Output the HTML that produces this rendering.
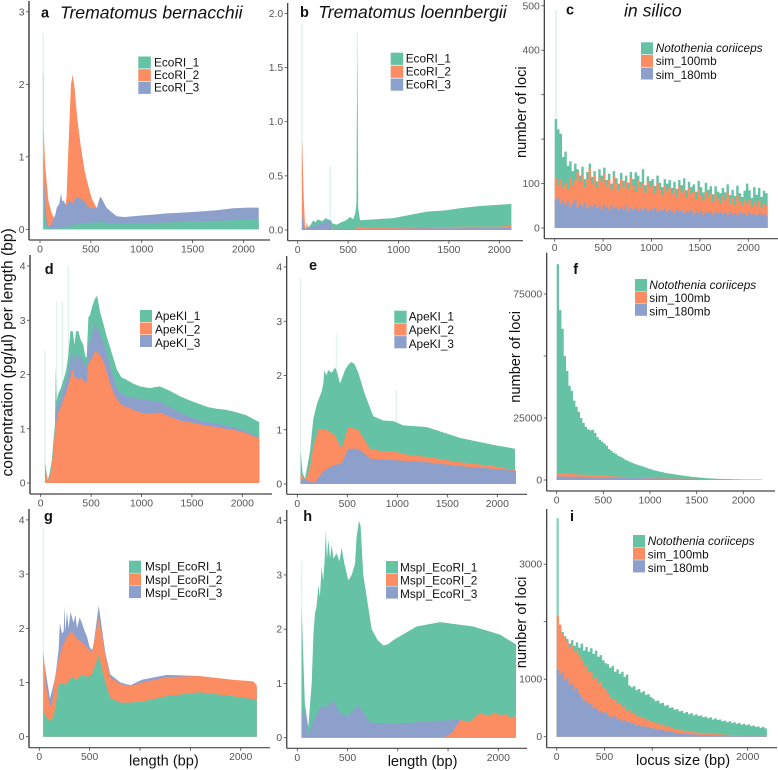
<!DOCTYPE html>
<html lang="en">
<head>
<meta charset="utf-8">
<title>Fragment length distributions</title>
<style>
html,body{margin:0;padding:0;background:#fff;width:778px;height:770px;overflow:hidden}
svg{display:block}
text{font-family:"Liberation Sans",Arial,sans-serif}
.tick{font-size:10.4px;fill:#555}
.lg{font-size:11.8px;fill:#111}
.ttl{font-size:17.6px;font-style:italic;fill:#111}
.ltr{font-size:14.5px;font-weight:bold;fill:#111}
.axt{font-size:14.6px;fill:#111}
</style>
</head>
<body>
<svg id="figure" width="778" height="770" viewBox="0 0 778 770" xmlns="http://www.w3.org/2000/svg">
<g id="plots"></g>

<text class="ltr" x="41" y="17.5">a</text>
<text class="ttl" x="60" y="18.5">Trematomus bernacchii</text>
<text class="ltr" x="300" y="17">b</text>
<text class="ttl" x="318.3" y="18">Trematomus loennbergii</text>
<text class="ltr" x="566" y="14.5">c</text>
<text class="ttl" x="624" y="16.5">in silico</text>
<text class="ltr" x="44.7" y="274">d</text>
<text class="ltr" x="309" y="270">e</text>
<text class="ltr" x="573.3" y="274">f</text>
<text class="ltr" x="44" y="521">g</text>
<text class="ltr" x="303.3" y="521">h</text>
<text class="ltr" x="570" y="521">i</text>

<text class="axt" transform="translate(12.5 476.5) rotate(-90)" style="font-size:15.6px">concentration (pg/µl) per length (bp)</text>
<text class="axt" transform="translate(526 158) rotate(-90)">number of loci</text>
<text class="axt" transform="translate(520 402.7) rotate(-90)">number of loci</text>
<text class="axt" transform="translate(526 668.3) rotate(-90)">number of loci</text>
<text class="axt" x="129" y="765.7">length (bp)</text>
<text class="axt" x="387.7" y="766">length (bp)</text>
<text class="axt" x="636" y="765">locus size (bp)</text>

<g>
<rect x="138.3" y="56.5" width="12.5" height="12" fill="#66c2a5"/><text class="lg" x="154" y="66.3">EcoRI_1</text>
<rect x="138.3" y="69.2" width="12.5" height="12" fill="#fc8d62"/><text class="lg" x="154" y="79">EcoRI_2</text>
<rect x="138.3" y="81.9" width="12.5" height="12" fill="#8da0cb"/><text class="lg" x="154" y="91.7">EcoRI_3</text>
</g>
<g>
<rect x="390.7" y="52.7" width="12.5" height="12.2" fill="#66c2a5"/><text class="lg" x="405.7" y="62.6">EcoRI_1</text>
<rect x="390.7" y="65.6" width="12.5" height="12.2" fill="#fc8d62"/><text class="lg" x="405.7" y="75.5">EcoRI_2</text>
<rect x="390.7" y="78.5" width="12.5" height="12.2" fill="#8da0cb"/><text class="lg" x="405.7" y="88.4">EcoRI_3</text>
</g>
<g>
<rect x="641" y="42.3" width="12" height="12" fill="#66c2a5"/><text class="lg" x="655.7" y="52.2" style="font-style:italic">Notothenia coriiceps</text>
<rect x="641" y="54.9" width="12" height="12" fill="#fc8d62"/><text class="lg" x="655.7" y="65">sim_100mb</text>
<rect x="641" y="67.5" width="12" height="12" fill="#8da0cb"/><text class="lg" x="655.7" y="79">sim_180mb</text>
</g>
<g>
<rect x="140" y="310" width="12" height="12" fill="#66c2a5"/><text class="lg" x="155" y="319.9">ApeKI_1</text>
<rect x="140" y="322.5" width="12" height="12" fill="#fc8d62"/><text class="lg" x="155" y="333.4">ApeKI_2</text>
<rect x="140" y="335" width="12" height="12" fill="#8da0cb"/><text class="lg" x="155" y="347">ApeKI_3</text>
</g>
<g>
<rect x="394.3" y="310.7" width="12.3" height="12.2" fill="#66c2a5"/><text class="lg" x="408.7" y="320.6">ApeKI_1</text>
<rect x="394.3" y="323.4" width="12.3" height="12.2" fill="#fc8d62"/><text class="lg" x="408.7" y="334.2">ApeKI_2</text>
<rect x="394.3" y="336.1" width="12.3" height="12.2" fill="#8da0cb"/><text class="lg" x="408.7" y="348">ApeKI_3</text>
</g>
<g>
<rect x="635" y="279" width="12" height="12" fill="#66c2a5"/><text class="lg" x="649.3" y="289" style="font-style:italic">Notothenia coriiceps</text>
<rect x="635" y="291.4" width="12" height="12" fill="#fc8d62"/><text class="lg" x="649.3" y="302">sim_100mb</text>
<rect x="635" y="303.8" width="12" height="12" fill="#8da0cb"/><text class="lg" x="649.3" y="315.5">sim_180mb</text>
</g>
<g>
<rect x="129" y="560.7" width="12" height="12.2" fill="#66c2a5"/><text class="lg" x="145" y="570.6">MspI_EcoRI_1</text>
<rect x="129" y="573.3" width="12" height="12.2" fill="#fc8d62"/><text class="lg" x="145" y="583.8">MspI_EcoRI_2</text>
<rect x="129" y="585.9" width="12" height="12.2" fill="#8da0cb"/><text class="lg" x="145" y="597">MspI_EcoRI_3</text>
</g>
<g>
<rect x="386" y="561" width="12" height="12.2" fill="#66c2a5"/><text class="lg" x="400" y="571.3">MspI_EcoRI_1</text>
<rect x="386" y="573.7" width="12" height="12.2" fill="#fc8d62"/><text class="lg" x="400" y="584.7">MspI_EcoRI_2</text>
<rect x="386" y="586.4" width="12" height="12.2" fill="#8da0cb"/><text class="lg" x="400" y="598">MspI_EcoRI_3</text>
</g>
<g>
<rect x="633" y="535" width="12" height="12.2" fill="#66c2a5"/><text class="lg" x="647.7" y="545" style="font-style:italic">Notothenia coriiceps</text>
<rect x="633" y="547.6" width="12" height="12.2" fill="#fc8d62"/><text class="lg" x="647.7" y="558.5">sim_100mb</text>
<rect x="633" y="560.2" width="12" height="12.2" fill="#8da0cb"/><text class="lg" x="647.7" y="572">sim_180mb</text>
</g>
</svg>

<script>
const GREEN = "#66c2a5", ORANGE = "#fc8d62", BLUE = "#8da0cb";

/* shared tick values */
const lengthTicks = [0, 500, 1000, 1500, 2000];
const lengthLabels = ["0", "500", "1000", "1500", "2000"];
const lengthLabelsCovered = ["0", "500", "", "", "2000"];

/* bin starts (bp) of the in-silico histograms */
const binStarts = [0,25,50,75,100,125,150,175,200,225,250,275,300,325,350,375,400,425,450,475,500,525,550,575,600,625,650,675,700,725,750,775,800,825,850,875,900,925,950,975,1000,1025,1050,1075,1100,1125,1150,1175,1200,1225,1250,1275,1300,1325,1350,1375,1400,1425,1450,1475,1500,1525,1550,1575,1600,1625,1650,1675,1700,1725,1750,1775,1800,1825,1850,1875,1900,1925,1950,1975,2000,2025,2050,2075,2100,2125,2150,2175];

/* panel a */
const aOrangeX = [33,36,50,82,115,150,200,240,262,270,290,305,321,340,365,400,440,475,510,555,570,2150];
const aOrangeY = [1.45,1.35,.9,.4,.22,.12,.1,.2,.45,.8,1.5,2.0,2.13,1.95,1.55,1.15,.8,.6,.42,.3,.1,.08];
const aBlueX = [33,36,50,65,82,105,130,150,165,190,207,218,230,260,290,325,360,400,440,480,525,560,590,610,630,655,700,755,830,917,1000,1100,1245,1400,1575,1750,1900,2050,2150];
const aBlueY = [1.05,.8,.4,.12,.04,.05,.13,.2,.3,.35,.5,.38,.4,.32,.4,.36,.45,.42,.38,.3,.29,.3,.45,.42,.36,.3,.24,.18,.17,.18,.19,.2,.22,.23,.245,.265,.29,.3,.3];
const aGreenX = [33,36,45,60,100,200,300,400,500,600,700,900,1200,1500,1800,2150];
const aGreenY = [.5,.5,.2,.05,.01,.02,.05,.08,.09,.1,.08,.08,.09,.11,.12,.14];
const aSpikeX = [33,33];
const aSpikeY = [2.7,2.15];
const aYTicks = [0,1,2,3];
const aYLabels = ["0","1","2","3"];

/* panel b */
const bGreenX = [42,60,89,122,155,175,200,240,280,320,330,345,387,430,480,519,550,570,583,586,592,597,600,618,780,950,1120,1280,1450,1610,1780,1940,2120];
const bGreenY = [.02,.02,.02,.04,.09,.07,.1,.08,.11,.09,.09,.06,.05,.07,.09,.12,.1,.15,.25,.9,1.7,.7,.2,.09,.1,.11,.14,.17,.18,.2,.22,.23,.24];
const bOrangeX = [42,46,60,73,80,89,100,122,560,600,800,1200,1600,2000,2120];
const bOrangeY = [.82,.78,.3,.02,.02,.07,.03,.02,.005,.03,.02,.02,.03,.03,.04];
const bBlueX = [42,46,60,73,122,200,320,322,335,600,1200,2120];
const bBlueY = [.02,.15,.05,.01,.02,.05,.09,.09,.01,.01,.015,.02];
const bSpikeX = [43,592,323];
const bSpikeY = [1.9,1.83,.6];
const bYTicks = [0,.5,1,1.5,2];
const bYLabels = ["0.0","0.5","1.0","1.5","2.0"];

/* panel c */
const cGreenY = [245,222,212,160,172,140,150,128,145,132,118,138,110,126,145,115,128,105,132,118,136,108,122,100,128,112,100,124,106,118,102,126,110,125,118,104,132,96,116,106,110,95,118,102,92,110,100,108,90,104,88,108,96,112,85,104,92,98,82,106,92,80,102,86,94,76,94,82,78,90,80,98,74,86,72,95,78,70,84,100,85,68,92,75,90,70,84,78];
const cOrangeY = [112,97,110,92,102,88,114,96,107,127,104,120,92,110,134,98,117,90,112,104,122,94,108,87,116,100,84,110,92,104,88,114,96,82,107,92,100,80,104,90,97,78,102,86,74,96,84,92,76,88,70,94,80,86,68,90,76,82,64,88,74,62,84,70,78,58,76,66,56,72,62,80,56,68,52,74,60,50,66,54,64,48,58,52,62,44,56,50];
const cBlueY = [64,70,56,62,52,60,48,55,62,46,54,49,57,44,51,47,54,45,50,42,52,46,41,50,44,48,40,47,42,50,39,45,41,47,38,44,40,46,37,43,40,45,36,42,39,44,35,41,38,33,42,37,40,32,39,35,40,31,38,34,39,30,37,33,38,30,36,32,38,31,35,30,37,30,34,29,36,31,33,28,35,30,32,27,34,29,31,27];
const cSpikeX = [15];
const cSpikeY = [490];
const cYTicks = [0,100,200,300,400,500];
const cYLabels = ["0","100","","","400","500"];

/* panel d */
const dX = [43,48,70,90,109,125,142,150,158,175,200,225,250,274,295,317,335,350,374,395,423,440,455,473,490,510,539,560,589,620,655,704,754,800,853,920,985,1080,1184,1280,1382,1480,1581,1660,1746,1830,1911,2040,2169];
const dOrangeY = [.35,.3,.02,.12,.3,.6,.95,1.2,1.1,1.3,1.4,1.55,1.65,1.8,1.95,2.1,1.95,1.95,1.9,1.95,1.9,1.85,1.85,2.2,2.25,2.3,2.43,2.42,2.35,2.25,2.05,1.75,1.55,1.45,1.4,1.35,1.3,1.28,1.3,1.22,1.15,1.12,1.08,1.05,1.03,1.0,.98,.92,.82];
const dBlueY = [.35,.3,.02,.12,.3,.6,.95,1.7,1.3,1.45,1.6,1.75,1.85,2.05,2.3,2.4,2.2,2.4,2.3,2.35,2.25,2.15,2.15,2.55,2.6,2.75,2.95,2.85,2.75,2.6,2.4,2.05,1.75,1.65,1.6,1.57,1.55,1.52,1.5,1.4,1.3,1.22,1.15,1.12,1.1,1.06,1.03,.95,.85];
const dGreenY = [.4,.3,.05,.2,.4,.75,1.1,2.15,1.5,1.65,1.75,1.9,2.05,2.35,2.8,2.8,2.55,2.8,2.8,2.65,2.55,2.35,2.3,3.05,3.1,3.25,3.4,3.45,3.15,2.95,2.7,2.4,2.1,1.95,1.9,1.83,1.78,1.75,1.78,1.7,1.6,1.52,1.45,1.4,1.37,1.35,1.32,1.25,1.12];
const dSpikeX = [43,160,215,274];
const dSpikeY = [2.45,3.35,3.35,4.0];
const dYTicks = [0,1,2,3,4];
const dYLabels = ["0","1","2","3","4"];

/* panel e */
const eGreenX = [33,53,77,127,160,200,243,260,270,290,310,345,377,400,427,477,510,543,575,610,677,760,860,960,1060,1293,1627,1960,2177];
const eGreenY = [.6,.2,.1,.6,1.2,1.5,1.7,1.85,2.1,2.0,2.1,2.05,2.15,2.05,1.85,2.1,2.2,2.25,2.2,2.05,1.65,1.25,1.17,1.16,1.08,1.05,.85,.72,.65];
const eOrangeX = [33,77,127,160,210,293,377,443,510,610,677,727,860,960,1127,1293,1627,1960,2187];
const eOrangeY = [.2,.05,.3,.7,1.0,1.0,.9,.65,1.05,1.0,.8,.65,.6,.6,.53,.5,.4,.33,.25];
const eBlueX = [33,77,177,243,310,377,443,510,610,677,727,860,960,1127,1293,1627,1960,2187];
const eBlueY = [.1,.08,.02,.2,.3,.35,.38,.65,.65,.55,.47,.45,.44,.42,.4,.33,.28,.24];
const eSpikeX = [33,392,990];
const eSpikeY = [3.8,2.75,1.75];

/* panel f */
const fGreenY = [87000,68500,61000,50000,44000,38000,36000,32000,29500,27500,25000,23000,21500,20500,20000,20300,19000,17300,16200,15500,14700,13800,12500,11800,11000,10500,9800,9300,8800,8200,7800,7300,6900,6500,6200,5900,5600,5300,4900,4600,4300,4000,3800,3500,3300,3100,2900,2700,2600,2400,2300,2150,2000,1850,1700,1600,1480,1350,1250,1150,1050,960,880,800,720,660,600,550,500,450,410,380,350,320,300,280,260,240,225,210,195,180,170,160,150,140,130,120];
const fOrangeY = [2800,2700,2650,2600,2500,2450,2400,2300,2250,2200,2150,2100,2050,2000,1950,1900,1850,1800,1750,1700,1650,1600,1550,1500,1450,1400,1370,1330,1300,1260,1220,1180,1150,1120,1080,1050,1020,990,960,930,900,870,840,810,780,760,730,710,680,660,640,620,600,580,560,540,520,500,480,460,440,420,400,390,370,350,340,320,310,290,280,270,260,240,230,220,210,200,190,180,170,160,150,140,130,120,110,100];
const fBlueY = [1450,1440,1420,1400,1380,1360,1340,1320,1300,1280,1260,1240,1220,1200,1180,1160,1140,1120,1100,1080,1060,1040,1020,1000,980,960,940,920,900,880,860,840,820,800,790,770,750,730,720,700,680,660,640,630,610,600,580,560,550,530,520,500,490,470,460,450,430,420,410,390,380,370,360,340,330,320,310,300,290,280,270,260,250,240,230,220,210,200,195,190,180,170,165,160,150,145,140,130];
const fYTicks = [0,25000,50000,75000];
const fYLabels = ["0","25000","","75000"];

/* panel g */
const gBlueX = [40,43,106,159,192,205,225,242,250,258,275,291,310,340,358,374,400,423,450,473,500,523,539,590,655,705,805,904,1020,1265,1590,2160];
const gBlueY = [1.5,1.45,.7,1.1,1.6,2.1,1.9,1.95,2.42,1.95,2.3,2.0,2.3,2.1,2.25,2.0,2.2,2.1,1.95,1.85,1.65,1.6,1.7,2.42,1.55,1.15,1.0,.95,1.05,1.14,1.12,.9];
const gOrangeX = [40,43,70,102,123,156,192,225,262,320,374,423,473,523,590,655,705,805,904,1020,1265,1590,1920,2125,2160];
const gOrangeY = [1.55,1.55,.9,.6,.55,1.1,1.4,1.65,1.8,1.95,1.8,1.75,1.65,1.55,2.2,1.5,1.1,.97,.93,1.0,1.1,1.12,1.05,1.02,.95];
const gGreenX = [40,43,57,90,123,156,192,225,262,320,374,423,473,523,590,655,705,805,904,1020,1265,1590,1920,2160];
const gGreenY = [.5,.5,.4,.3,.3,.5,.95,1.0,.95,1.1,1.05,1.15,1.1,1.15,1.5,1.0,.72,.63,.63,.65,.75,.82,.75,.68];
const gSpikeX = [40];
const gSpikeY = [3.85];

/* panel h */
const hGreenX = [43,76,109,143,160,176,190,210,225,242,258,270,285,295,310,325,342,360,390,420,441,470,507,540,574,590,614,630,657,740,800,856,900,955,1187,1420,1751,2017,2176];
const hGreenY = [2.4,.6,.2,1.0,1.9,2.3,2.4,2.8,2.6,3.15,2.9,3.2,3.82,3.3,3.65,3.3,3.55,3.3,3.4,3.25,3.5,3.2,2.9,3.0,3.2,3.7,4.0,3.9,3.0,2.0,1.8,1.7,1.72,1.8,2.05,2.13,2.05,1.9,1.72];
const hBlueX = [43,60,80,109,159,200,242,290,358,420,507,607,723,955,1287,1619,1685,2176];
const hBlueY = [.6,.3,.6,.05,.3,.45,.6,.55,.7,.45,.4,.6,.28,.25,.3,.33,.3,.3];
const hOrangeX = [1453,1536,1619,1718,1817,1917,1967,2030,2065,2130,2176];
const hOrangeY = [0,.08,.32,.3,.45,.4,.47,.4,.45,.35,.42];
const hSpikeX = [43];
const hSpikeY = [3.25];

/* panel i */
const iGreenY = [1900,1880,1820,1750,1700,1620,1680,1580,1640,1550,1620,1500,1560,1480,1540,1440,1500,1390,1420,1330,1280,1260,1200,1230,1130,1170,1090,1130,1040,1080,890,860,880,810,830,770,790,730,740,690,660,620,630,580,590,540,550,500,510,470,480,440,450,410,430,390,410,370,390,360,370,340,350,320,340,300,320,290,300,270,280,250,270,240,250,225,240,210,225,200,215,185,195,170,180,155,170,145];
const iOrangeY = [2100,1950,1800,1720,1650,1560,1600,1480,1500,1420,1330,1220,1250,1120,1130,1010,1040,930,960,860,830,760,690,640,660,570,590,510,530,440,470,400,420,350,370,320,340,280,300,260,270,230,245,200,215,175,190,150,165,130,140,110,120,95,105,85,90,75,80,65,70,58,62,50,55,45,48,40,42,36,38,32,34,28,30,26,28,24,25,22,22,20,20,18,17,16,15,14];
const iBlueY = [1160,1080,1120,980,1020,900,920,820,850,760,680,610,630,560,570,490,510,440,450,410,430,370,350,340,360,300,315,270,285,250,260,225,240,200,210,175,185,160,165,145,150,130,135,112,118,100,104,85,90,72,62,55,58,48,50,44,46,38,40,34,35,30,32,28,30,26,27,24,25,22,23,20,21,18,19,17,18,16,16,15,15,14,14,13,13,12,12,11];
const iSpikeX = [10];
const iSpikeY = [3800];
const iYTicks = [0,1000,2000,3000];
const iYLabels = ["0","1000","","3000"];

const SVG_NS = "http://www.w3.org/2000/svg";

const panels = [
 {id:"a",x0:40,xk:.1017,y0:229.3,yk:72.5,left:29,bottom:240,top:1,right:270,axisW:1.8,axisC:"#666",spikeW:1.4,xLabels:lengthLabels,yTicks:aYTicks,yLabels:aYLabels,
  spikes:{x:aSpikeX,y:aSpikeY,color:GREEN},
  series:[{n:"ecori-2",c:ORANGE,x:aOrangeX,y:aOrangeY},{n:"ecori-3",c:BLUE,x:aBlueX,y:aBlueY},{n:"ecori-1",c:GREEN,x:aGreenX,y:aGreenY}]},
 {id:"b",x0:297.7,xk:.1008,y0:230,yk:108.3,left:287.7,bottom:240.7,top:3,right:523,axisW:1.2,axisC:"#333",spikeW:1.4,xLabels:lengthLabels,yTicks:bYTicks,yLabels:bYLabels,
  spikes:{x:bSpikeX,y:bSpikeY,color:GREEN},
  series:[{n:"ecori-1",c:GREEN,x:bGreenX,y:bGreenY},{n:"ecori-2",c:ORANGE,x:bOrangeX,y:bOrangeY},{n:"ecori-3",c:BLUE,x:bBlueX,y:bBlueY}]},
 {id:"c",x0:554.7,xk:.0968,y0:228,yk:.4444,left:544.3,bottom:238.7,top:0,right:778,axisW:1.2,axisC:"#333",spikeW:2,step:25,xLabels:lengthLabels,yTicks:cYTicks,yLabels:cYLabels,
  spikes:{x:cSpikeX,y:cSpikeY,color:GREEN},
  series:[{n:"notothenia",c:GREEN,x:binStarts,y:cGreenY},{n:"sim-100mb",c:ORANGE,x:binStarts,y:cOrangeY},{n:"sim-180mb",c:BLUE,x:binStarts,y:cBlueY}]},
 {id:"d",x0:40.7,xk:.1008,y0:483,yk:54.25,left:30,bottom:494,top:255,right:272,axisW:1.6,axisC:"#555",spikeW:1.4,xLabels:lengthLabels,yTicks:dYTicks,yLabels:dYLabels,
  spikes:{x:dSpikeX,y:dSpikeY,color:GREEN},
  series:[{n:"apeki-1",c:GREEN,x:dX,y:dGreenY},{n:"apeki-3",c:BLUE,x:dX,y:dBlueY},{n:"apeki-2",c:ORANGE,x:dX,y:dOrangeY}]},
 {id:"e",x0:297.3,xk:.1,y0:484,yk:54.25,left:286.7,bottom:494.3,top:256,right:527,axisW:1.2,axisC:"#333",spikeW:1.4,xLabels:lengthLabels,yTicks:dYTicks,yLabels:dYLabels,
  spikes:{x:eSpikeX,y:eSpikeY,color:GREEN},
  series:[{n:"apeki-1",c:GREEN,x:eGreenX,y:eGreenY},{n:"apeki-2",c:ORANGE,x:eOrangeX,y:eOrangeY},{n:"apeki-3",c:BLUE,x:eBlueX,y:eBlueY}]},
 {id:"f",x0:556.7,xk:.0933,y0:480,yk:.00248,left:546.7,bottom:491,top:252.7,right:775,axisW:1.2,axisC:"#333",step:25,spikeW:2,xLabels:lengthLabels,yTicks:fYTicks,yLabels:fYLabels,
  spikes:null,
  series:[{n:"notothenia",c:GREEN,x:binStarts,y:fGreenY},{n:"sim-100mb",c:ORANGE,x:binStarts,y:fOrangeY},{n:"sim-180mb",c:BLUE,x:binStarts,y:fBlueY}]},
 {id:"g",x0:39.3,xk:.1007,y0:736.7,yk:54.2,left:29,bottom:747.7,top:509,right:270,axisW:1.6,axisC:"#555",spikeW:1.4,xLabels:lengthLabelsCovered,yTicks:dYTicks,yLabels:dYLabels,
  spikes:{x:gSpikeX,y:gSpikeY,color:GREEN},
  series:[{n:"mspi-ecori-3",c:BLUE,x:gBlueX,y:gBlueY},{n:"mspi-ecori-2",c:ORANGE,x:gOrangeX,y:gOrangeY},{n:"mspi-ecori-1",c:GREEN,x:gGreenX,y:gGreenY}]},
 {id:"h",x0:297.3,xk:.1005,y0:737.7,yk:54.25,left:286.7,bottom:748.3,top:510,right:527,axisW:1.5,axisC:"#555",spikeW:1.4,xLabels:lengthLabelsCovered,yTicks:dYTicks,yLabels:dYLabels,
  spikes:{x:hSpikeX,y:hSpikeY,color:GREEN},
  series:[{n:"mspi-ecori-1",c:GREEN,x:hGreenX,y:hGreenY},{n:"mspi-ecori-3",c:BLUE,x:hBlueX,y:hBlueY},{n:"mspi-ecori-2",c:ORANGE,x:hOrangeX,y:hOrangeY}]},
 {id:"i",x0:556.7,xk:.0955,y0:736.7,yk:.0575,left:546.7,bottom:747.7,top:509,right:777,axisW:1.2,axisC:"#333",spikeW:2.4,step:25,xLabels:lengthLabelsCovered,yTicks:iYTicks,yLabels:iYLabels,
  spikes:{x:iSpikeX,y:iSpikeY,color:GREEN},
  series:[{n:"notothenia",c:GREEN,x:binStarts,y:iGreenY},{n:"sim-100mb",c:ORANGE,x:binStarts,y:iOrangeY},{n:"sim-180mb",c:BLUE,x:binStarts,y:iBlueY}]}
];

function svgEl(tag, parent) {
  const el = document.createElementNS(SVG_NS, tag);
  parent.appendChild(el);
  return el;
}

function areaPath(s, xScale, yScale, step) {
  const n = Math.min(s.x.length, s.y.length);
  const base = yScale(0).toFixed(1);
  let d = "M" + xScale(s.x[0]).toFixed(1) + " " + base;
  for (let i = 0; i < n; i++) {
    const py = yScale(s.y[i]).toFixed(1);
    d += "L" + xScale(s.x[i]).toFixed(1) + " " + py;
    if (step) d += "L" + xScale(s.x[i] + step).toFixed(1) + " " + py;
  }
  const last = step ? s.x[n - 1] + step : s.x[n - 1];
  d += "L" + xScale(last).toFixed(1) + " " + base + "Z";
  return d;
}

function drawPanel(p) {
  const root = document.getElementById("plots");
  const xScale = v => p.x0 + v * p.xk;
  const yScale = v => p.y0 - v * p.yk;

  const g = svgEl("g", root);
  
  

  if (p.spikes) {
    p.spikes.x.forEach((sx, i) => {
      const r = svgEl("rect", g);
      
      
      r.setAttribute("x", xScale(sx) - p.spikeW / 2);
      r.setAttribute("y", yScale(p.spikes.y[i]));
      r.setAttribute("width", p.spikeW);
      r.setAttribute("height", yScale(0) - yScale(p.spikes.y[i]));
      r.setAttribute("fill", p.spikes.color);
      r.setAttribute("fill-opacity", p.id === "i" ? "0.75" : "0.2");
    });
  }

  p.series.forEach(s => {
    const path = svgEl("path", g);
    
    
    path.setAttribute("d", areaPath(s, xScale, yScale, p.step));
    path.setAttribute("fill", s.c);
  });

  const yAxis = svgEl("line", g);
  
  
  yAxis.setAttribute("x1", p.left);
  yAxis.setAttribute("x2", p.left);
  yAxis.setAttribute("y1", p.top);
  yAxis.setAttribute("y2", p.bottom);
  yAxis.setAttribute("stroke", p.axisC);
  yAxis.setAttribute("stroke-width", p.axisW);

  const xAxis = svgEl("line", g);
  
  
  xAxis.setAttribute("x1", p.left);
  xAxis.setAttribute("x2", p.right);
  xAxis.setAttribute("y1", p.bottom);
  xAxis.setAttribute("y2", p.bottom);
  xAxis.setAttribute("stroke", "#444");
  xAxis.setAttribute("stroke-width", "1.2");

  lengthTicks.forEach((t, i) => {
    const tx = xScale(t);
    const mark = svgEl("line", g);
    
    
    mark.setAttribute("x1", tx);
    mark.setAttribute("x2", tx);
    mark.setAttribute("y1", p.bottom);
    mark.setAttribute("y2", p.bottom + 3);
    mark.setAttribute("stroke", "#444");
    mark.setAttribute("stroke-width", "0.8");
    if (p.xLabels[i]) {
      const lab = svgEl("text", g);
      
      
      lab.setAttribute("class", "tick");
      lab.setAttribute("x", tx);
      lab.setAttribute("y", p.bottom + 12.5);
      lab.setAttribute("text-anchor", "middle");
      lab.textContent = p.xLabels[i];
    }
  });

  p.yTicks.forEach((t, i) => {
    const ty = yScale(t);
    const mark = svgEl("line", g);
    
    
    mark.setAttribute("x1", p.left - 3);
    mark.setAttribute("x2", p.left);
    mark.setAttribute("y1", ty);
    mark.setAttribute("y2", ty);
    mark.setAttribute("stroke", "#444");
    mark.setAttribute("stroke-width", "0.8");
    if (p.yLabels[i]) {
      const lab = svgEl("text", g);
      
      
      lab.setAttribute("class", "tick");
      lab.setAttribute("x", p.left - 4.5);
      lab.setAttribute("y", ty + 3.5);
      lab.setAttribute("text-anchor", "end");
      lab.textContent = p.yLabels[i];
    }
  });
}

panels.forEach(drawPanel);
</script>
</body>
</html>
